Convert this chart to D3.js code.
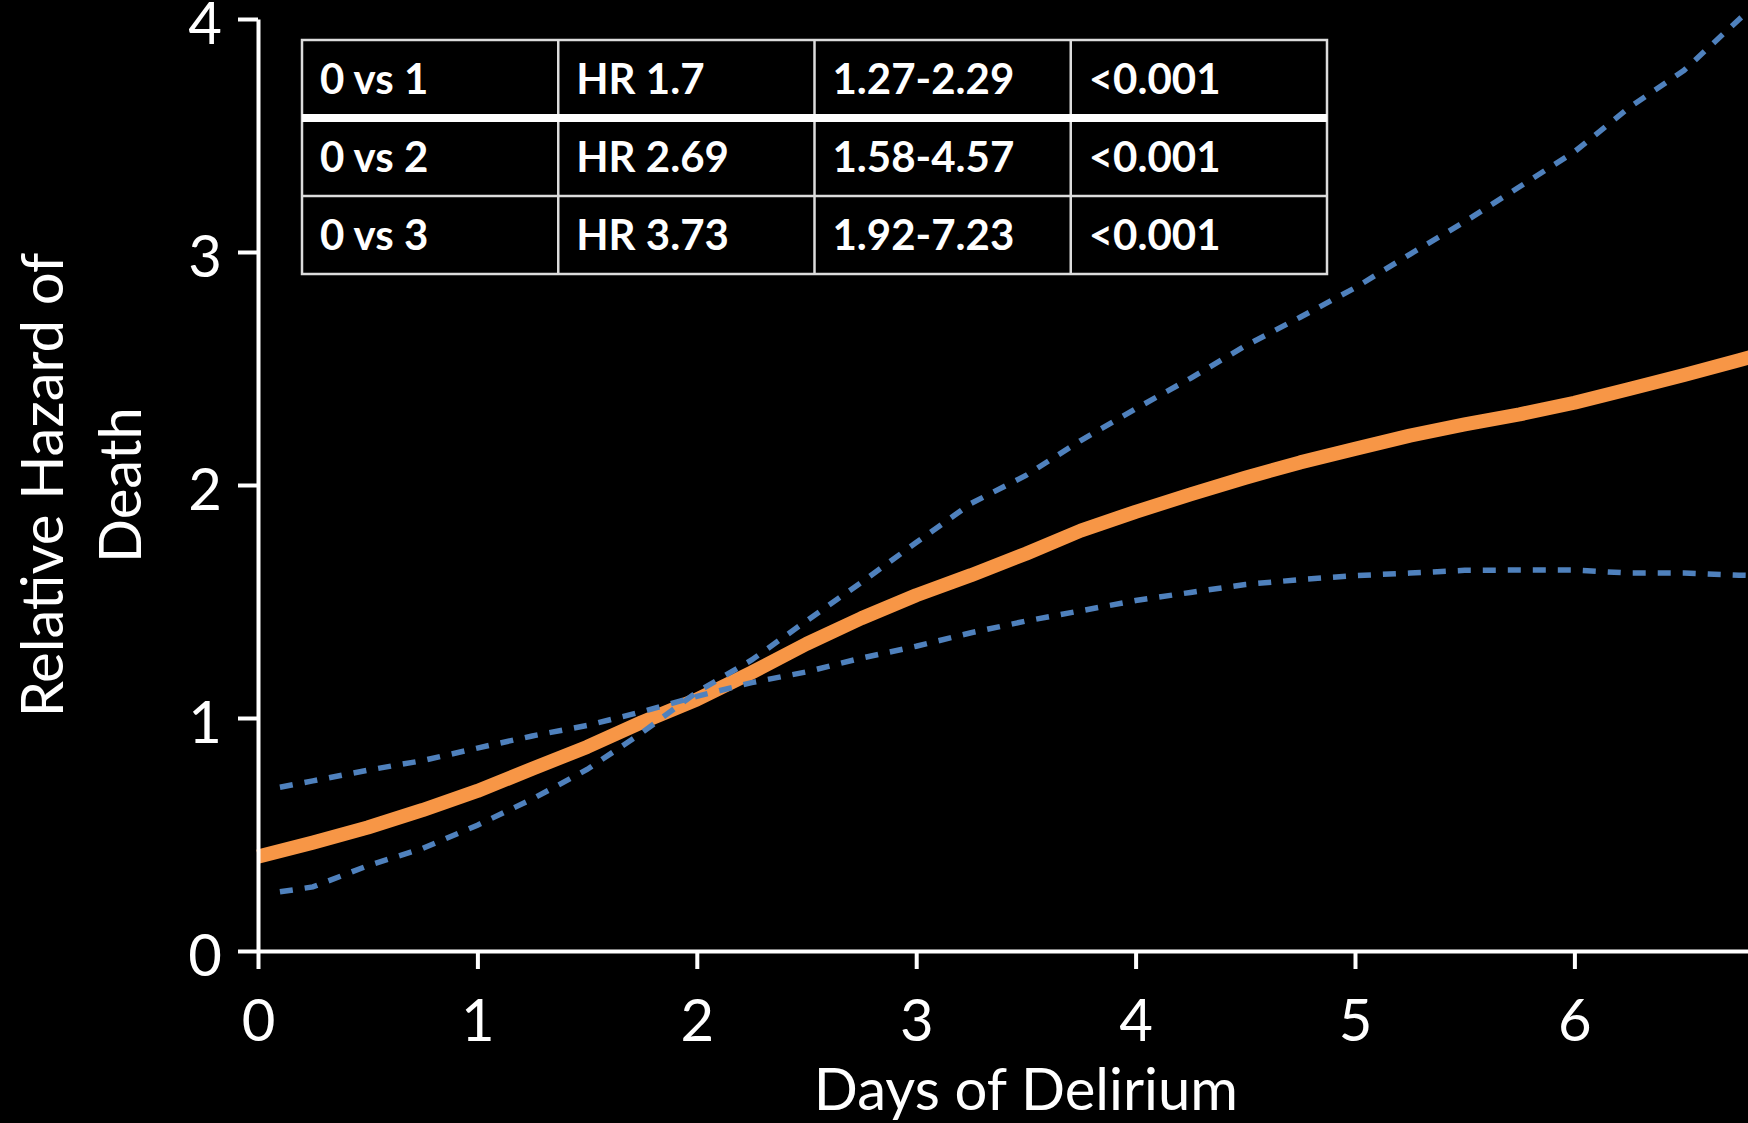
<!DOCTYPE html>
<html>
<head>
<meta charset="utf-8">
<script src="https://cdn.jsdelivr.net/npm/d3@7"></script>
<style>
  body { margin: 0; background: #000; }
  svg { display: block; background: #000; font-family: Lato, "Open Sans", sans-serif; }
</style>
</head>
<body>
<div class="chart"></div>
<script>
// hazard curve (solid orange)
let days = [0, 0.25, 0.5, 0.75, 1, 1.25, 1.5, 1.75, 2, 2.25, 2.5, 2.75, 3, 3.25, 3.5,
  3.75, 4, 4.25, 4.5, 4.75, 5, 5.25, 5.5, 5.75, 6, 6.25, 6.5, 6.75, 6.8];
let hazard = [0.405, 0.465, 0.53, 0.605, 0.687, 0.782, 0.876, 0.982, 1.079, 1.195, 1.318,
  1.428, 1.527, 1.613, 1.705, 1.804, 1.885, 1.96, 2.031, 2.097, 2.155, 2.212, 2.26,
  2.303, 2.353, 2.412, 2.472, 2.535, 2.548];

// confidence bands (dashed blue)
let ciDays = [0.1, 0.25, 0.5, 0.75, 1, 1.25, 1.5, 1.75, 2, 2.25, 2.5, 2.75, 3, 3.25, 3.5,
  3.75, 4, 4.25, 4.5, 4.75, 5, 5.25, 5.5, 5.75, 6, 6.25, 6.5, 6.75, 6.8];
let ciFlat = [0.703, 0.73, 0.776, 0.817, 0.871, 0.923, 0.968, 1.027, 1.093, 1.152, 1.198,
  1.257, 1.308, 1.366, 1.416, 1.46, 1.504, 1.539, 1.573, 1.594, 1.611, 1.622, 1.634,
  1.635, 1.635, 1.622, 1.622, 1.613, 1.612];
let ciSteep = [0.254, 0.275, 0.366, 0.44, 0.54, 0.652, 0.779, 0.937, 1.111, 1.249, 1.417,
  1.582, 1.753, 1.921, 2.041, 2.191, 2.327, 2.458, 2.597, 2.72, 2.846, 2.99, 3.13,
  3.28, 3.43, 3.62, 3.78, 3.998, 4.04];

let xTicks = [0, 1, 2, 3, 4, 5, 6];
let yTicks = [0, 1, 2, 3, 4];

// table
let comparisons = ["0 vs 1", "0 vs 2", "0 vs 3"];
let hrs = ["HR 1.7", "HR 2.69", "HR 3.73"];
let cis = ["1.27-2.29", "1.58-4.57", "1.92-7.23"];
let pvals = ["<0.001", "<0.001", "<0.001"];

let W = 1748, H = 1123;

let svg = d3.select(".chart")
  .append("svg")
  .attr("width", W)
  .attr("height", H);

let x = d3.scaleLinear().domain([0, 7]).range([258, 258 + 7 * 219.4]);
let y = d3.scaleLinear().domain([0, 4]).range([951, 19]);

let line = d3.line()
  .x(d => x(d[0]))
  .y(d => y(d[1]));

svg.append("path")
  .datum(days.map((d, i) => [d, hazard[i]]))
  .attr("d", line)
  .attr("fill", "none")
  .attr("stroke", "#F79646")
  .attr("stroke-width", 14)
  .attr("stroke-linejoin", "round");

[ciFlat, ciSteep].forEach(vals => {
  svg.append("path")
    .datum(ciDays.map((d, i) => [d, vals[i]]))
    .attr("d", line)
    .attr("fill", "none")
    .attr("stroke", "#4F81BD")
    .attr("stroke-width", 5.5)
    .attr("stroke-dasharray", "13,12");
});

// axes
let xAxis = d3.axisBottom(x).tickValues(xTicks).tickFormat(d3.format("d"))
  .tickSize(18).tickSizeOuter(0).tickPadding(31);
let yAxis = d3.axisLeft(y).tickValues(yTicks).tickFormat(d3.format("d"))
  .tickSize(20).tickSizeOuter(0).tickPadding(16);

let xg = svg.append("g").attr("transform", "translate(0," + y(0) + ")").call(xAxis);
let yg = svg.append("g").attr("transform", "translate(" + x(0) + ",0)").call(yAxis);

[xg, yg].forEach(g => {
  g.select(".domain").attr("stroke", "#fff").attr("stroke-width", 4);
  g.selectAll(".tick line").attr("stroke", "#fff").attr("stroke-width", 4);
  g.selectAll(".tick text")
    .attr("fill", "#fff")
    .style("font-family", "Lato, sans-serif")
    .style("font-size", "58px");
});
yg.selectAll(".tick text").attr("dy", "0.42em");

svg.append("text")
  .attr("x", (x(0) + x(7)) / 2)
  .attr("y", 1110)
  .attr("text-anchor", "middle")
  .attr("fill", "#fff")
  .style("font-size", "58px")
  .text("Days of Delirium");

let yTitle = svg.append("text")
  .attr("transform", "rotate(-90)")
  .attr("text-anchor", "middle")
  .attr("fill", "#fff")
  .style("font-size", "58px");
yTitle.append("tspan").attr("x", -(y(0) + y(4)) / 2).attr("y", 63).text("Relative Hazard of");
yTitle.append("tspan").attr("x", -(y(0) + y(4)) / 2).attr("y", 141).text("Death");

// table of hazard ratios
let cols = d3.scaleBand().domain(d3.range(4)).range([302, 1327]);
let rows = d3.scaleBand().domain(d3.range(3)).range([40, 274]);
let table = svg.append("g");

let cells = [];
comparisons.forEach((c, r) => {
  [c, hrs[r], cis[r], pvals[r]].forEach((t, k) => cells.push({ r: r, c: k, t: t }));
});

table.selectAll("text")
  .data(cells)
  .enter()
  .append("text")
  .attr("x", d => cols(d.c) + 18)
  .attr("y", d => rows(d.r) + rows.bandwidth() / 2 + 15)
  .attr("fill", "#fff")
  .style("font-weight", 700)
  .style("font-size", "42px")
  .text(d => d.t);

let gridColor = "#dcdcdc";
table.append("rect")
  .attr("x", 302).attr("y", 40)
  .attr("width", 1327 - 302).attr("height", 274 - 40)
  .attr("fill", "none").attr("stroke", gridColor).attr("stroke-width", 2.5);

table.selectAll(".vline")
  .data(d3.range(1, 4))
  .enter()
  .append("line")
  .attr("x1", d => cols(d)).attr("x2", d => cols(d))
  .attr("y1", 40).attr("y2", 274)
  .attr("stroke", gridColor).attr("stroke-width", 2.5);

table.selectAll(".hline")
  .data([1, 2])
  .enter()
  .append("line")
  .attr("x1", 302).attr("x2", 1327)
  .attr("y1", d => rows(d)).attr("y2", d => rows(d))
  .attr("stroke", d => d == 1 ? "#fff" : gridColor)
  .attr("stroke-width", d => d == 1 ? 8 : 2.5);
</script>
</body>
</html>
